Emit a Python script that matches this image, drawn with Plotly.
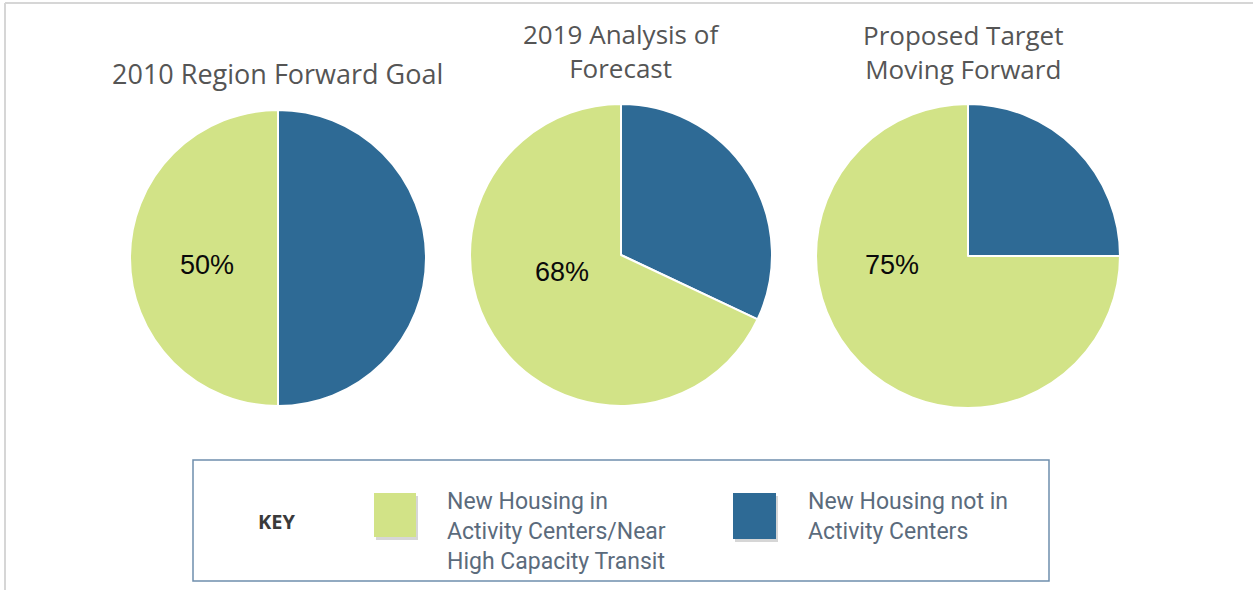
import plotly.graph_objects as go

W, H = 1253, 590

# ---- data ----
chart_titles = ["2010 Region Forward Goal", "2019 Analysis of<br>Forecast", "Proposed Target<br>Moving Forward"]
categories = ["New Housing not in<br>Activity Centers",
              "New Housing in<br>Activity Centers/Near<br>High Capacity Transit"]
near_share = [50, 68, 75]          # % in activity centers / near transit
not_share = [50, 32, 25]           # % not in activity centers
key_title = "KEY"

GREEN = "#d2e387"
BLUE = "#2e6a95"

def px(x):
    return x / W

def py(y):
    return 1 - y / H

# pie placement (pixel boxes: left, right, top, bottom)
boxes = [(130, 426, 110, 406), (470, 772, 104, 406), (816, 1120, 104, 408)]
title_pos = [(277, 73), (621, 50.5), (963, 51.5)]
title_sizes = [27, 26, 26]
pct_label_pos = [(207, 265), (562, 272), (892, 265)]

fig = go.Figure()
for i in range(3):
    l, r, t, b = boxes[i]
    fig.add_trace(go.Pie(
        labels=[categories[0].replace("<br>", " "), categories[1].replace("<br>", " ")],
        values=[not_share[i], near_share[i]],
        textinfo="none",
        marker=dict(colors=[BLUE, GREEN], line=dict(color="white", width=2)),
        sort=False,
        direction="clockwise",
        rotation=0,
        hoverinfo="label+value",
        showlegend=False,
        domain=dict(x=[px(l), px(r)], y=[py(b), py(t)]),
    ))

annotations = []
for i, ttl in enumerate(chart_titles):
    cx, cy = title_pos[i]
    annotations.append(dict(
        x=px(cx), y=py(cy), xref="paper", yref="paper",
        text=ttl, showarrow=False, xanchor="center", yanchor="middle",
        font=dict(family="Open Sans", size=title_sizes[i], color="#555555"),
    ))
    lx, ly = pct_label_pos[i]
    annotations.append(dict(
        x=px(lx), y=py(ly), xref="paper", yref="paper",
        text=f"{near_share[i]}%", showarrow=False, xanchor="center", yanchor="middle",
        font=dict(family="Liberation Sans", size=27, color="#0a0a0a"),
    ))

# key box
annotations.append(dict(
    x=px(276), y=py(521), xref="paper", yref="paper", text=f"<b>{key_title}</b>",
    showarrow=False, xanchor="center", yanchor="middle",
    font=dict(family="Open Sans", size=20, color="#3a3a3a"),
))

key_items = [
    (GREEN, (374, 416, 493, 537), 445, [501, 531, 561], categories[1]),
    (BLUE, (733, 776, 493, 539), 806, [501, 531], categories[0]),
]
shapes = [
    # outer frame (top and left edges)
    dict(type="line", xref="paper", yref="paper", x0=px(5), x1=1.0, y0=py(3), y1=py(3),
         line=dict(color="#d6d6d6", width=2)),
    dict(type="line", xref="paper", yref="paper", x0=px(5), x1=px(5), y0=py(3), y1=0,
         line=dict(color="#d6d6d6", width=2)),
    # key border
    dict(type="rect", xref="paper", yref="paper", x0=px(193), x1=px(1049), y0=py(581), y1=py(460),
         line=dict(color="#6f8fad", width=1.5), fillcolor="rgba(0,0,0,0)"),
]
for col, (l, r, t, b), tx, ys, lab in key_items:
    shapes.append(dict(type="rect", xref="paper", yref="paper",
                       x0=px(l + 2), x1=px(r + 2), y0=py(b + 3), y1=py(t + 3),
                       line=dict(width=0), fillcolor="rgba(0,0,0,0.16)", layer="below"))
    shapes.append(dict(type="rect", xref="paper", yref="paper",
                       x0=px(l), x1=px(r), y0=py(b), y1=py(t),
                       line=dict(width=0), fillcolor=col))
    for line, yy in zip(lab.split("<br>"), ys):
        annotations.append(dict(
            x=px(tx), y=py(yy), xref="paper", yref="paper", text=line,
            showarrow=False, xanchor="left", yanchor="middle",
            font=dict(family="Roboto", size=23, color="#5b6b7c"),
        ))

fig.update_layout(
    width=W, height=H,
    margin=dict(l=0, r=0, t=0, b=0),
    paper_bgcolor="white",
    plot_bgcolor="white",
    annotations=annotations,
    shapes=shapes,
)

fig.write_html("out.html", config={"displayModeBar": False},
               post_script="document.body.style.margin='0';")
